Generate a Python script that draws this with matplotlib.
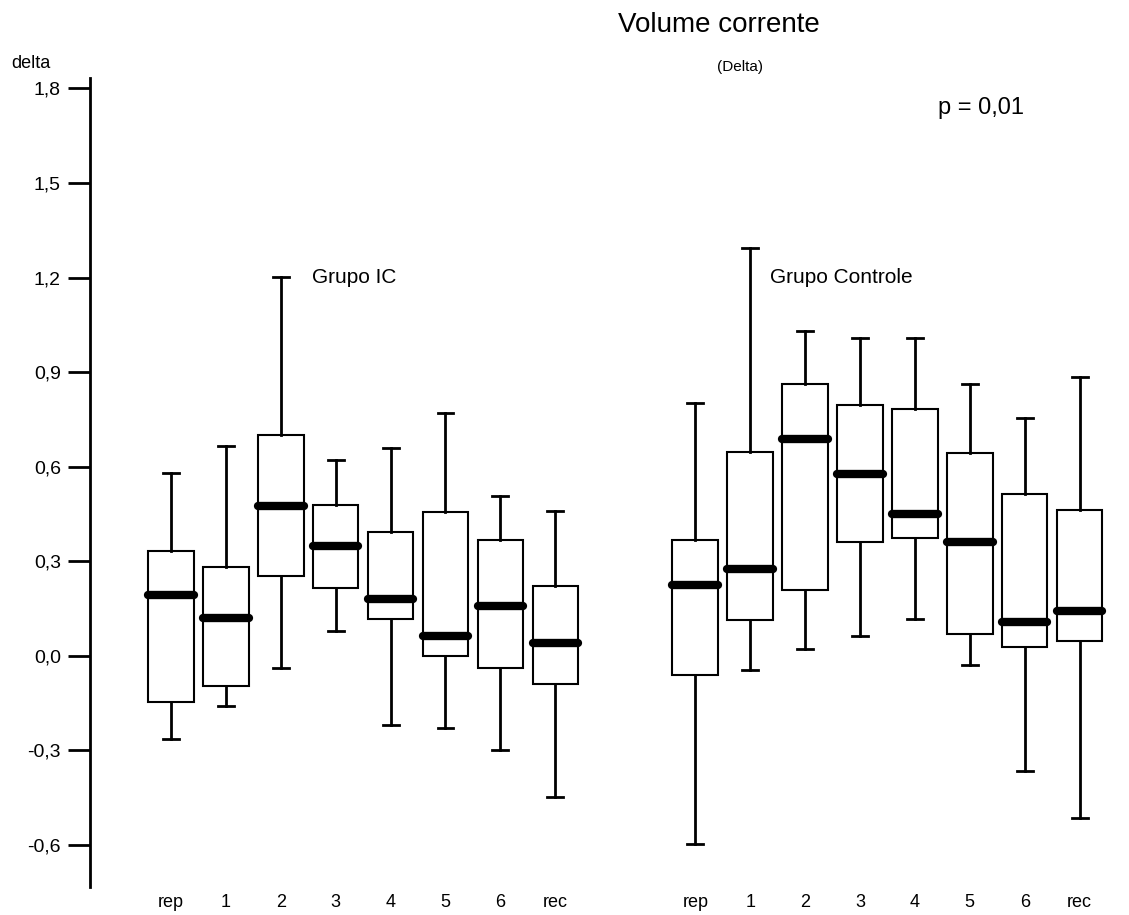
import matplotlib
matplotlib.use("Agg")
import matplotlib.pyplot as plt
from matplotlib.ticker import FuncFormatter

plt.rcParams['font.family'] = ['Liberation Sans', 'DejaVu Sans']

# Dados: momentos e estatisticas de cada grupo (delta)
momentos = ["rep", "1", "2", "3", "4", "5", "6", "rec"]

ic_min = [-0.264, -0.158, -0.038, 0.080, -0.219, -0.230, -0.297, -0.449]
ic_q1  = [-0.146, -0.094, 0.255, 0.215, 0.118, 0.000, -0.038, -0.089]
ic_med = [0.192, 0.119, 0.475, 0.350, 0.181, 0.062, 0.158, 0.040]
ic_q3  = [0.333, 0.282, 0.700, 0.480, 0.394, 0.457, 0.367, 0.221]
ic_max = [0.580, 0.665, 1.202, 0.621, 0.660, 0.772, 0.507, 0.460]

ct_min = [-0.596, -0.044, 0.023, 0.062, 0.118, -0.028, -0.366, -0.513]
ct_q1  = [-0.062, 0.113, 0.209, 0.362, 0.373, 0.069, 0.029, 0.047]
ct_med = [0.226, 0.277, 0.688, 0.576, 0.451, 0.361, 0.108, 0.143]
ct_q3  = [0.367, 0.648, 0.863, 0.795, 0.783, 0.643, 0.513, 0.463]
ct_max = [0.801, 1.294, 1.031, 1.009, 1.009, 0.863, 0.756, 0.885]

yticks = [-0.6, -0.3, 0.0, 0.3, 0.6, 0.9, 1.2, 1.5, 1.8]


def stats(lo, q1, med, q3, hi):
    return [dict(whislo=a, q1=b, med=c, q3=d, whishi=e, fliers=[])
            for a, b, c, d, e in zip(lo, q1, med, q3, hi)]


pos_ic = [1 + i for i in range(len(momentos))]
pos_ct = [10.55 + i for i in range(len(momentos))]

fig = plt.figure(figsize=(11.29, 9.15), dpi=100)
ax = fig.add_axes([90 / 1129, 28 / 915, 1039 / 1129, 809 / 915])

estilo = dict(
    widths=0.83, capwidths=0.29, showfliers=False, patch_artist=True,
    boxprops=dict(facecolor="white", edgecolor="black", linewidth=1.5),
    whiskerprops=dict(color="black", linewidth=2),
    capprops=dict(color="black", linewidth=2),
    medianprops=dict(color="black", linewidth=6, solid_capstyle="round"),
)
ax.bxp(stats(ic_min, ic_q1, ic_med, ic_q3, ic_max), positions=pos_ic, **estilo)
ax.bxp(stats(ct_min, ct_q1, ct_med, ct_q3, ct_max), positions=pos_ct, **estilo)

# eixos
ax.set_xlim(-0.475, 18.45)
ax.set_ylim(-0.733, 1.833)
for s in ["top", "right", "bottom"]:
    ax.spines[s].set_visible(False)
ax.spines["left"].set_linewidth(2)

ax.set_yticks(yticks)
ax.yaxis.set_major_formatter(FuncFormatter(lambda v, p: f"{v:.1f}".replace(".", ",")))
ax.tick_params(axis="y", length=16, width=2, pad=5, labelsize=14)
ax.set_xticks(pos_ic + pos_ct)
ax.set_xticklabels(momentos + momentos)
ax.tick_params(axis="x", length=0, pad=5, labelsize=13)

# textos
ax.text(3.57, 1.2, "Grupo IC", fontsize=15, va="center", ha="left")
ax.text(11.91, 1.2, "Grupo Controle", fontsize=15, va="center", ha="left")
fig.text(719 / 1129, 1 - 25 / 915, "Volume corrente", fontsize=20, ha="center", va="center")
fig.text(740 / 1129, 1 - 67 / 915, "(Delta)", fontsize=11, ha="center", va="center")
fig.text(938 / 1129, 1 - 108 / 915, "p = 0,01", fontsize=17, ha="left", va="center")
fig.text(11 / 1129, 1 - 63 / 915, "delta", fontsize=13, ha="left", va="center")

fig.savefig("out.png", dpi=100, facecolor="white")
